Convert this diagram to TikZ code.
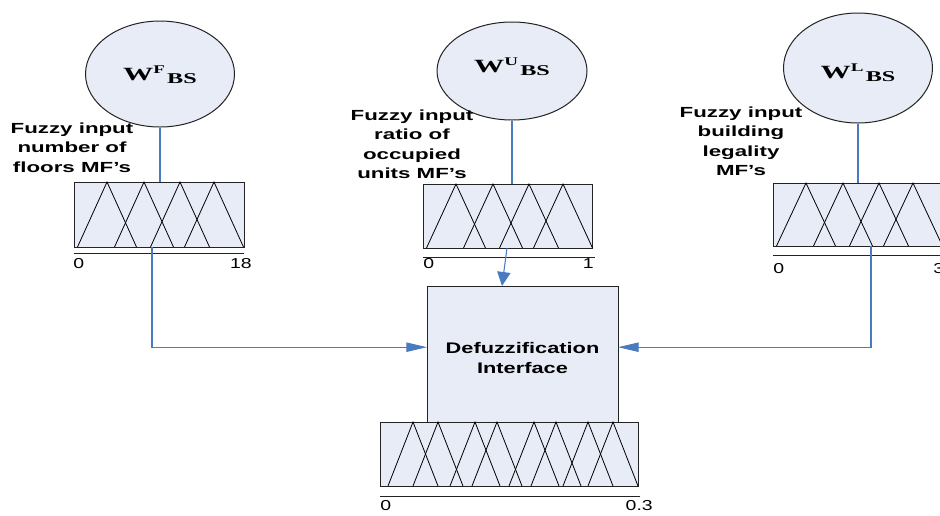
\documentclass[tikz,border=0pt]{standalone}
\usepackage{fontspec}
\usepackage{graphicx}
\setmainfont{Liberation Sans}
\newfontfamily\serifface{Liberation Serif}
\usetikzlibrary{shapes.geometric,arrows.meta,calc}

\definecolor{boxfill}{RGB}{231,236,246}
\definecolor{linkblue}{RGB}{74,122,192}
\definecolor{edgegrey}{RGB}{35,35,35}

% one drawing unit = 0.75pt
\newcommand\pxu{0.75pt}
% horizontally widened text
\newcommand\wide[2][1.52]{\scalebox{#1}[1]{#2}}
% weight symbol W^X_BS
\newcommand\weight[1]{\wide[1.62]{\serifface\bfseries
  \fontsize{14}{15}\selectfont W\raisebox{4.8pt}{\fontsize{8.8}{10}\selectfont #1}\kern1pt\raisebox{-2.6pt}{\fontsize{11.2}{13}\selectfont BS}}}

\tikzset{
  x=0.75pt, y=-0.75pt,
  weightnode/.style={ellipse, draw=edgegrey, fill=boxfill, line width=0.75pt, inner sep=0pt},
  mfbox/.style={rectangle, draw=edgegrey, fill=boxfill, line width=0.75pt, inner sep=0pt, outer sep=0pt},
  tri/.style={draw=black, line width=0.6pt},
  axisline/.style={draw=edgegrey, line width=0.75pt},
  wire/.style={draw=linkblue, line width=0.8pt},
  harrow/.style={wire, -{Triangle[length=15.5pt,width=7pt]}},
  varrow/.style={wire, -{Triangle[length=10.5pt,width=10pt]}},
  mflabel/.style={font=\bfseries\fontsize{11}{14.3}\selectfont, align=center, inner sep=0pt, anchor=north},
  ticklabel/.style={font=\fontsize{10.8}{12}\selectfont, inner sep=0pt},
}

\begin{document}
\begin{tikzpicture}
\useasboundingbox (0,0) rectangle (940,515);
\clip (0,0) rectangle (940,515);

% ---- weight ellipses ----
\node[weightnode, minimum width=149*\pxu, minimum height=106*\pxu] (lw) at (160,74) {};
\node[weightnode, minimum width=150*\pxu, minimum height=98*\pxu]  (mw) at (512,71) {};
\node[weightnode, minimum width=149*\pxu, minimum height=110*\pxu] (rw) at (858,68) {};
\node[inner sep=0pt, anchor=base] (lwt) at (160,80) {\weight{F}};
\node[inner sep=0pt, anchor=base] (mwt) at (512,72) {\weight{U}};
\node[inner sep=0pt, anchor=base] (rwt) at (858,78) {\weight{L}};

% ---- input membership-function boxes ----
\node[mfbox, minimum width=170*\pxu, minimum height=65*\pxu] (lbox) at (159,214.5) {};
\node[mfbox, minimum width=169*\pxu, minimum height=64*\pxu] (mbox) at (507.5,216) {};
\node[mfbox, minimum width=170*\pxu, minimum height=63*\pxu] (rbox) at (858,214.5) {};

\foreach \b in {lbox,mbox,rbox}{
  \foreach \p in {33,70,106,140}{
    \draw[tri] ($(\b.south west)+(\p-29.5,0)$) -- ($(\b.north west)+(\p,0)$) -- ($(\b.south west)+(\p+29.5,0)$);
  }
}

% ---- input labels ----
\node[mflabel] (llab) at (72,123) {\wide{Fuzzy input}\\\wide{number of}\\\wide{floors MF’s}};
\node[mflabel] (mlab) at (412,110) {\wide{Fuzzy input}\\\wide{ratio of}\\\wide{occupied}\\\wide{units MF’s}};
\node[mflabel] (rlab) at (741,107) {\wide{Fuzzy input}\\\wide{building}\\\wide{legality}\\\wide{MF’s}};

% ---- axes under the input boxes ----
\draw[axisline] ($(lbox.south west)+(0,6)$) -- ($(lbox.south east)+(0,6)$);
\draw[axisline] ($(mbox.south west)+(0,9)$) -- ($(mbox.south east)+(3,9)$);
\draw[axisline] ($(rbox.south west)+(0,9)$) -- ($(rbox.south east)+(0,9)$);
\node[ticklabel, anchor=north west] (l0) at (73,258) {\wide[1.35]{0}};
\node[ticklabel, anchor=north east] (l1) at (252,258) {\wide[1.35]{18}};
\node[ticklabel, anchor=north west] (m0) at (423,258) {\wide[1.35]{0}};
\node[ticklabel, anchor=north east] (m1) at (594,258) {\wide[1.35]{1}};
\node[ticklabel, anchor=north west] (r0) at (773,263) {\wide[1.35]{0}};
\node[ticklabel, anchor=north west] (r1) at (933,263) {\wide[1.35]{3}};

% ---- defuzzification block ----
\node[mfbox, minimum width=191*\pxu, minimum height=136*\pxu,
      font=\bfseries\fontsize{11.5}{15}\selectfont, align=center] (defuzz) at (522.5,354)
      {\rule{0pt}{14.5pt}\wide[1.42]{Defuzzification}\\\wide[1.42]{Interface}};

% ---- output membership-function box ----
\node[mfbox, minimum width=258*\pxu, minimum height=64*\pxu] (obox) at (509,454) {};
\foreach \p in {33,58,95,117,154,176,208,233}{
  \draw[tri] ($(obox.south west)+(\p-25,0)$) -- ($(obox.north west)+(\p,0)$) -- ($(obox.south west)+(\p+25,0)$);
}
\draw[axisline] ($(obox.south west)+(0,10)$) -- ($(obox.south east)+(2,10)$);
\node[ticklabel, anchor=north west] (o0) at (380,500) {\wide[1.35]{0}};
\node[ticklabel, anchor=north east] (o1) at (653,500) {\wide[1.35]{0.3}};

% ---- connectors ----
\draw[wire] (lw.south) -- (lw.south |- lbox.north);
\draw[wire] (mw.south) -- (mw.south |- mbox.north);
\draw[wire] (rw.south) -- (rw.south |- rbox.north);

\coordinate (lout) at ($(lbox.south west)+(78,0)$);
\coordinate (mout) at ($(mbox.south west)+(84,0)$);
\coordinate (rout) at ($(rbox.south west)+(98,0)$);
\coordinate (lin) at ($(defuzz.north west)!0.45!(defuzz.south west)$);
\coordinate (rin) at ($(defuzz.north east)!0.45!(defuzz.south east)$);
\coordinate (min) at ($(defuzz.north west)+(75,0)$);

\draw[harrow] (lout) |- (lin);
\draw[harrow] (rout) |- (rin);
\draw[varrow] (mout) -- (min);
\end{tikzpicture}
\end{document}
